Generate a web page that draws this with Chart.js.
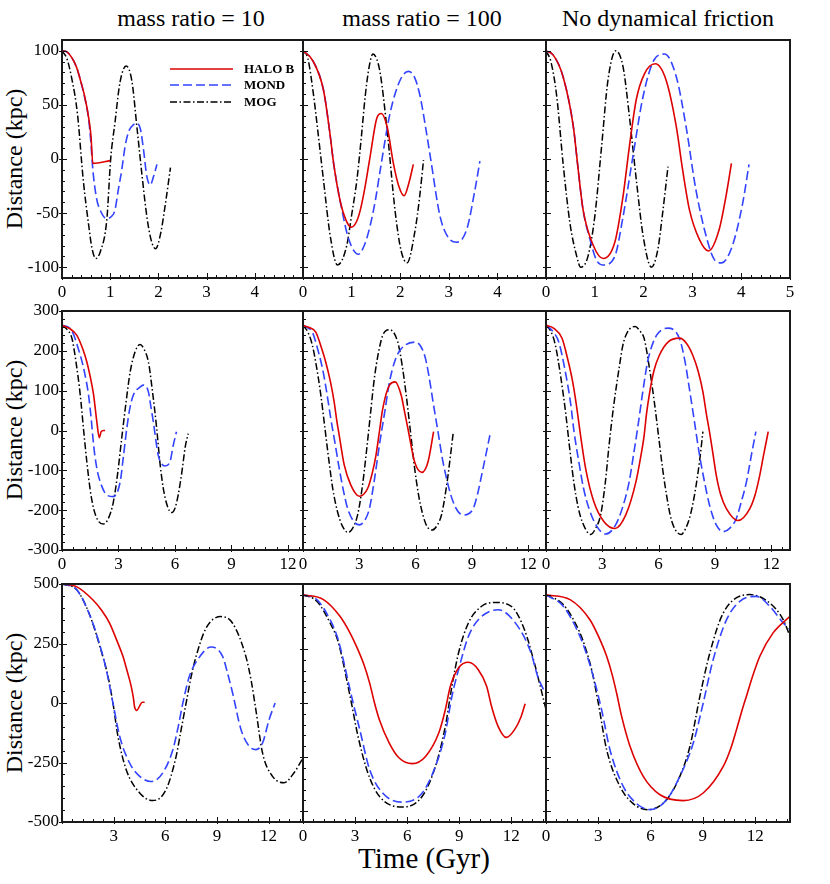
<!DOCTYPE html>
<html>
<head>
<meta charset="utf-8">
<script src="https://cdn.jsdelivr.net/npm/chart.js@4.4.1/dist/chart.umd.min.js"></script>
<style>
  html, body { margin:0; padding:0; background:#fff; }
  #wrap { position:relative; width:830px; height:884px; background:#fff; overflow:hidden; }
  #wrap canvas { position:absolute; }
  .txt { position:absolute; font-family:"Liberation Serif","Times New Roman",serif; color:#000; line-height:1; white-space:nowrap; }
</style>
</head>
<body>
<div id="wrap">
  <div class="txt" style="left:191px; top:6px; font-size:24px; transform:translateX(-50%);">mass ratio = 10</div>
  <div class="txt" style="left:422px; top:6px; font-size:24px; transform:translateX(-50%);">mass ratio = 100</div>
  <div class="txt" style="left:668px; top:6px; font-size:24px; transform:translateX(-50%);">No dynamical friction</div>
  <div class="txt" style="left:424px; top:844px; font-size:29px; transform:translateX(-50%);">Time (Gyr)</div>
  <div class="txt" style="left:14px; top:159px; font-size:24px; transform:translate(-50%,-50%) rotate(-90deg);">Distance (kpc)</div>
  <div class="txt" style="left:14px; top:430px; font-size:24px; transform:translate(-50%,-50%) rotate(-90deg);">Distance (kpc)</div>
  <div class="txt" style="left:14px; top:703px; font-size:24px; transform:translate(-50%,-50%) rotate(-90deg);">Distance (kpc)</div>
</div>
<script>
// ---------------- DATA: [time (Gyr), distance (kpc)] ----------------
// Row 1 : initial distance 100 kpc
const halo_100_mr10 = [[0,100],[0.1,99],[0.2,94],[0.3,85],[0.4,70],[0.47,58],[0.55,39],[0.6,22],[0.64,-4],[1.0,-1.5]];
const mond_100_mr10 = [[0,100],[0.1,99],[0.2,94],[0.3,85],[0.4,70],[0.47,57],[0.55,38],[0.6,15],[0.64,-10],[0.72,-37],[0.79,-47],[0.92,-55],[1.03,-53],[1.1,-47],[1.17,-28],[1.24,-10],[1.31,12],[1.38,25],[1.49,32],[1.56,33],[1.63,27],[1.69,9],[1.76,-16],[1.83,-24],[1.9,-16],[1.97,-5]];
const mog_100_mr10  = [[0,100],[0.1,93],[0.2,75],[0.32,42],[0.44,-19],[0.55,-60],[0.62,-82],[0.7,-92],[0.8,-85],[0.93,-56],[1.01,0],[1.1,34],[1.2,70],[1.33,86],[1.45,72],[1.56,27],[1.66,-15],[1.76,-53],[1.85,-75],[1.94,-83],[2.05,-68],[2.15,-40],[2.25,-8]];

const halo_100_mr100 = [[0,100],[0.2,91],[0.42,64],[0.55,25],[0.63,-4],[0.77,-40],[0.88,-56],[0.99,-63],[1.1,-58],[1.18,-47],[1.28,-25],[1.38,2],[1.52,38],[1.61,42],[1.73,30],[1.86,-4],[1.97,-25],[2.08,-34],[2.18,-22],[2.27,-5]];
const mond_100_mr100 = [[0,100],[0.2,91],[0.42,64],[0.55,25],[0.63,-4],[0.77,-40],[0.94,-74],[1.14,-88],[1.26,-80],[1.38,-62],[1.49,-38],[1.59,-10],[1.79,42],[2.0,73],[2.17,81],[2.3,75],[2.41,58],[2.52,30],[2.62,2],[2.82,-53],[2.98,-72],[3.16,-77],[3.37,-65],[3.54,-28],[3.64,-2]];
const mog_100_mr100  = [[0,100],[0.1,93],[0.22,58],[0.32,20],[0.42,-19],[0.56,-71],[0.71,-98],[0.9,-80],[1.0,-52],[1.11,-19],[1.2,20],[1.28,58],[1.36,85],[1.44,97],[1.52,92],[1.59,79],[1.73,27],[1.9,-50],[2.02,-85],[2.14,-96],[2.31,-65],[2.4,-35],[2.48,-1]];

const halo_100_nodf = [[0,100],[0.15,96],[0.35,76],[0.56,30],[0.66,-10],[0.76,-47],[0.97,-80],[1.17,-92],[1.41,-77],[1.58,-34],[1.71,12],[1.85,55],[2.02,79],[2.24,88],[2.46,73],[2.67,30],[2.8,-10],[2.94,-47],[3.14,-74],[3.33,-85],[3.55,-65],[3.69,-34],[3.8,-4]];
const mond_100_nodf = [[0,100],[0.15,96],[0.35,76],[0.56,30],[0.66,-10],[0.76,-47],[0.9,-74],[1.03,-93],[1.17,-98],[1.41,-90],[1.58,-53],[1.78,2],[1.99,58],[2.22,92],[2.43,97],[2.67,76],[2.87,30],[3.07,-28],[3.28,-71],[3.45,-93],[3.6,-96],[3.82,-80],[4.03,-41],[4.16,-5]];
const mog_100_nodf  = [[0,100],[0.1,90],[0.22,58],[0.35,-4],[0.49,-59],[0.63,-90],[0.71,-100],[0.86,-90],[1.0,-53],[1.14,12],[1.27,73],[1.43,100],[1.58,85],[1.71,39],[1.85,-19],[1.99,-71],[2.16,-100],[2.29,-84],[2.39,-50],[2.5,-7]];

// Row 2 : initial distance ~265 kpc
const halo_265_mr10 = [[0,264],[0.4,256],[0.79,239],[1.1,205],[1.32,172],[1.5,135],[1.68,89],[1.85,22],[1.98,-18],[2.08,-3],[2.2,0],[2.29,0]];
const mond_265_mr10 = [[0,264],[0.44,256],[0.97,189],[1.2,145],[1.41,89],[1.55,30],[1.68,-37],[1.85,-95],[2.03,-129],[2.38,-162],[2.73,-166],[3.09,-129],[3.25,-70],[3.44,5],[3.6,55],[3.79,89],[4.14,109],[4.32,114],[4.59,97],[4.72,60],[4.85,22],[5.11,-62],[5.3,-84],[5.47,-89],[5.73,-79],[5.91,-37],[6.08,-3]];
const mog_265_mr10  = [[0,264],[0.3,252],[0.53,231],[0.75,170],[0.97,89],[1.15,0],[1.32,-79],[1.5,-150],[1.68,-196],[1.9,-225],[2.2,-235],[2.45,-222],[2.73,-179],[2.95,-110],[3.17,-20],[3.4,70],[3.62,147],[3.9,200],[4.14,216],[4.35,205],[4.59,172],[4.8,100],[5.03,5],[5.2,-80],[5.38,-145],[5.6,-190],[5.82,-206],[6.0,-195],[6.17,-162],[6.35,-110],[6.55,-40],[6.7,-8]];

const halo_265_mr100 = [[0,264],[0.3,259],[0.68,247],[1.0,205],[1.21,172],[1.45,125],[1.66,72],[1.8,25],[1.93,-12],[2.2,-87],[2.55,-137],[3.0,-165],[3.45,-145],[3.7,-105],[3.89,-62],[4.08,0],[4.25,55],[4.61,114],[4.91,122],[5.23,89],[5.4,50],[5.59,5],[5.95,-79],[6.34,-105],[6.66,-79],[6.96,-3]];
const mond_265_mr100 = [[0,264],[0.25,258],[0.5,247],[0.75,210],[1.04,155],[1.25,100],[1.48,30],[1.7,-30],[1.93,-95],[2.15,-150],[2.38,-196],[2.7,-228],[3.0,-237],[3.3,-225],[3.54,-196],[3.8,-125],[4.07,-37],[4.35,45],[4.61,122],[4.9,175],[5.23,205],[6.0,222],[6.48,189],[6.7,140],[6.93,72],[7.2,-5],[7.46,-79],[8.0,-179],[8.54,-212],[9.07,-196],[9.3,-160],[9.52,-112],[9.75,-60],[9.96,-12]];
const mog_265_mr100  = [[0,264],[0.25,248],[0.5,214],[0.72,160],[0.95,89],[1.17,5],[1.39,-79],[1.6,-150],[1.84,-204],[2.1,-240],[2.41,-256],[2.65,-245],[2.91,-212],[3.15,-145],[3.36,-62],[3.58,35],[3.8,130],[4.02,195],[4.25,239],[4.61,253],[5.05,222],[5.28,165],[5.5,89],[5.72,0],[5.95,-95],[6.17,-165],[6.39,-212],[6.6,-240],[6.88,-250],[7.15,-238],[7.38,-212],[7.55,-170],[7.73,-112],[7.88,-55],[8.0,-8]];

const halo_265_nodf = [[0,264],[0.4,257],[0.86,231],[1.1,190],[1.39,130],[1.6,70],[1.84,-12],[2.11,-95],[2.55,-179],[3.09,-229],[3.68,-246],[4.25,-212],[4.79,-129],[5.05,-65],[5.23,-12],[5.35,40],[5.5,89],[5.75,150],[6.04,189],[6.5,222],[7.11,232],[7.5,218],[7.82,189],[8.1,150],[8.36,97],[8.55,40],[8.71,-3],[8.9,-60],[9.07,-112],[9.3,-160],[9.61,-196],[10.23,-226],[10.86,-196],[11.15,-160],[11.39,-112],[11.6,-60],[11.84,-3]];
const mond_265_nodf = [[0,264],[0.35,250],[0.68,222],[1.0,155],[1.3,72],[1.5,-5],[1.75,-79],[2.0,-145],[2.29,-196],[2.7,-240],[3.18,-260],[3.71,-237],[4.1,-190],[4.43,-129],[4.65,-65],[4.88,5],[5.15,95],[5.41,172],[5.7,220],[5.95,243],[6.48,257],[7.11,231],[7.4,175],[7.64,105],[7.9,25],[8.18,-62],[8.45,-130],[8.71,-187],[9.05,-235],[9.43,-254],[9.8,-245],[10.14,-221],[10.4,-180],[10.68,-129],[10.95,-60],[11.18,-3]];
const mog_265_nodf  = [[0,264],[0.25,250],[0.5,214],[0.8,130],[1.04,47],[1.25,-40],[1.48,-129],[1.7,-190],[1.93,-229],[2.38,-261],[2.65,-245],[2.91,-212],[3.15,-135],[3.36,-37],[3.6,60],[3.89,155],[4.1,215],[4.34,247],[4.75,261],[5.0,250],[5.23,231],[5.5,160],[5.77,72],[6.0,-15],[6.21,-95],[6.45,-170],[6.66,-221],[6.9,-250],[7.2,-261],[7.42,-248],[7.64,-221],[7.82,-185],[8.0,-137],[8.2,-70],[8.36,-3]];

// Row 3 : initial distance 500 kpc
const halo_500_mr10 = [[0,500],[0.84,489],[1.8,433],[2.3,390],[2.77,335],[3.2,260],[3.54,196],[3.8,130],[4.02,70],[4.15,20],[4.21,-14],[4.35,-31],[4.5,-14],[4.66,3],[4.8,3]];
const mond_500_mr10 = [[0,500],[0.84,477],[1.61,370],[2.19,245],[2.57,140],[2.96,0],[3.35,-140],[3.92,-251],[4.5,-307],[5.18,-330],[5.86,-293],[6.44,-196],[6.75,-100],[7.02,0],[7.4,112],[7.88,182],[8.66,235],[9.33,196],[9.6,130],[9.91,42],[10.4,-112],[10.88,-182],[11.26,-196],[11.65,-168],[12.03,-70],[12.38,0]];
const mog_500_mr10  = [[0,500],[0.84,477],[1.61,370],[2.19,240],[2.67,112],[2.96,0],[3.25,-140],[3.73,-280],[4.5,-377],[5.28,-410],[6.05,-363],[6.63,-224],[6.9,-120],[7.21,0],[7.5,110],[7.79,196],[8.37,315],[9.23,363],[9.91,335],[10.68,196],[11.0,90],[11.26,-28],[11.65,-210],[12.22,-307],[12.9,-335],[13.48,-293],[14,-231]];

const halo_500_mr100 = [[0,500],[1.18,478],[2.13,401],[2.6,340],[3.08,262],[3.5,180],[3.84,92],[4.12,0],[4.4,-77],[4.97,-185],[5.54,-254],[6.3,-280],[7.06,-247],[7.82,-139],[8.2,-31],[8.49,77],[8.96,162],[9.53,188],[10.1,154],[10.58,77],[10.86,-15],[11.24,-108],[11.71,-159],[12.19,-123],[12.57,-62],[12.8,-3]];
const mond_500_mr100 = [[0,500],[0.8,478],[1.56,385],[2.0,300],[2.32,200],[2.6,100],[2.89,0],[3.27,-123],[3.84,-308],[4.59,-416],[5.73,-458],[6.87,-416],[7.63,-293],[8.2,-139],[8.58,31],[8.96,154],[9.53,308],[10.1,385],[11.24,431],[12.38,354],[13.14,231],[13.52,123],[14,40]];
const mog_500_mr100  = [[0,500],[0.8,470],[1.56,370],[2.0,290],[2.32,185],[2.55,95],[2.79,0],[3.17,-154],[3.74,-324],[4.4,-431],[5.73,-481],[6.87,-431],[7.63,-293],[8.2,-108],[8.58,77],[8.96,231],[9.53,370],[10.29,447],[11.05,465],[12.0,447],[12.76,339],[13.33,185],[13.6,100],[14,-30]];

const halo_500_nodf = [[0,500],[1.38,478],[2.52,385],[3.0,310],[3.48,216],[3.8,130],[4.05,46],[4.34,-62],[4.82,-200],[5.58,-339],[6.54,-424],[7.87,-451],[9.02,-416],[10.17,-293],[10.6,-210],[10.93,-123],[11.3,-20],[11.5,31],[11.79,108],[12.27,216],[13.03,324],[14,401]];
const mond_500_nodf = [[0,500],[0.99,447],[1.95,308],[2.35,220],[2.71,123],[3.19,-31],[3.67,-216],[4.43,-385],[5.2,-465],[5.96,-493],[6.92,-447],[7.68,-339],[8.45,-185],[9.02,0],[9.59,200],[10.36,385],[11.12,470],[12.08,493],[12.84,447],[13.61,370],[14,340]];
const mog_500_nodf  = [[0,500],[0.99,455],[1.95,324],[2.3,245],[2.62,154],[3.0,0],[3.48,-216],[4.24,-385],[5.0,-465],[5.87,-493],[6.92,-447],[7.68,-339],[8.26,-200],[8.83,31],[9.4,231],[10.17,416],[11.7,501],[12.84,462],[13.61,385],[14,308]];

// ---------------- Tick labels ----------------
const xTicksRow1 = [0,1,2,3,4];
const xTicksRow1Last = [0,1,2,3,4,5];
const xTicksRow2 = [0,3,6,9,12];
const xTicksRow3First = [3,6,9,12];
const xTicksRow3 = [0,3,6,9,12];
const yTicksRow1 = [-100,-50,0,50,100];
const yTicksRow2 = [-300,-200,-100,0,100,200,300];
const yTicksRow3 = [-500,-250,0,250,500];

const seriesNames = ['HALO B','MOND','MOG'];
const colTitles = ['mass ratio = 10','mass ratio = 100','No dynamical friction'];

// ---------------- Layout & style ----------------
const colX = [[62,303],[303,546],[546,790]];
const rowY = [[40,278],[311,550],[584,822]];
const styles = [
  {color:'#dd0000', dash:[], width:1.6},
  {color:'#3344ff', dash:[9,4], width:1.6},
  {color:'#000000', dash:[7,2.5,1.5,2.5], width:1.5}
];
const FONT = '"Liberation Serif","Times New Roman",serif';
const PADTOP = 14;

const panels = [
  {r:0,c:0,s:[halo_100_mr10,mond_100_mr10,mog_100_mr10],   x:[0,5],  xt:xTicksRow1, xm:0.2, y:[-110,110], yt:yTicksRow1, ym:10, ylab:true, legend:true},
  {r:0,c:1,s:[halo_100_mr100,mond_100_mr100,mog_100_mr100],x:[0,5],  xt:xTicksRow1, xm:0.2, y:[-110,110], yt:yTicksRow1, ym:10},
  {r:0,c:2,s:[halo_100_nodf,mond_100_nodf,mog_100_nodf],   x:[0,5],  xt:xTicksRow1Last, xm:0.2, y:[-110,110], yt:yTicksRow1, ym:10},
  {r:1,c:0,s:[halo_265_mr10,mond_265_mr10,mog_265_mr10],   x:[0,12.8], xt:xTicksRow2, xm:0.6, y:[-300,300], yt:yTicksRow2, ym:20, ylab:true},
  {r:1,c:1,s:[halo_265_mr100,mond_265_mr100,mog_265_mr100],x:[0,12.95],xt:xTicksRow2, xm:0.6, y:[-300,300], yt:yTicksRow2, ym:20},
  {r:1,c:2,s:[halo_265_nodf,mond_265_nodf,mog_265_nodf],   x:[0,13], xt:xTicksRow2, xm:0.6, y:[-300,300], yt:yTicksRow2, ym:20},
  {r:2,c:0,s:[halo_500_mr10,mond_500_mr10,mog_500_mr10],   x:[0,14], xt:xTicksRow3First, xm:0.6, y:[-500,500], yt:yTicksRow3, ym:50, ylab:true},
  {r:2,c:1,s:[halo_500_mr100,mond_500_mr100,mog_500_mr100],x:[0,14], xt:xTicksRow3, xm:0.6, y:[-550,550], yt:yTicksRow3, ym:50},
  {r:2,c:2,s:[halo_500_nodf,mond_500_nodf,mog_500_nodf],   x:[0,14], xt:xTicksRow3, xm:0.6, y:[-550,550], yt:yTicksRow3, ym:50}
];

const framePlugin = {
  id: 'frame',
  afterDatasetsDraw(chart) {
    const p = chart.options.plugins.frame;
    if (!p) return;
    const ctx = chart.ctx, a = chart.chartArea, xs = chart.scales.x, ys = chart.scales.y;
    const ln = (x1,y1,x2,y2) => { ctx.beginPath(); ctx.moveTo(x1,y1); ctx.lineTo(x2,y2); ctx.stroke(); };
    ctx.save();
    ctx.strokeStyle = '#111'; ctx.lineWidth = 1;
    const nx = Math.floor((xs.max - xs.min) / p.xm + 1e-6);
    for (let i = 0; i <= nx; i++) {
      const px = Math.round(xs.getPixelForValue(xs.min + i * p.xm)) + 0.5;
      ln(px, a.bottom, px, a.bottom - 3);
    }
    for (let i = 0; i <= 10; i++) {
      const v = p.xMajorStep * i;
      if (v > xs.max + 1e-6) break;
      const px = Math.round(xs.getPixelForValue(v)) + 0.5;
      ln(px, a.bottom + 2, px, a.bottom - 5);
    }
    const y0 = Math.ceil(ys.min / p.ym - 1e-6);
    const y1 = Math.floor(ys.max / p.ym + 1e-6);
    for (let i = y0; i <= y1; i++) {
      const py = Math.round(ys.getPixelForValue(i * p.ym)) + 0.5;
      ln(a.left - 1, py, a.left + 3, py);
    }
    p.yt.forEach(v => {
      const py = Math.round(ys.getPixelForValue(v)) + 0.5;
      ln(a.left - 3, py, a.left + 5, py);
    });
    ctx.strokeStyle = '#1a1a1a'; ctx.lineWidth = 2;
    ctx.strokeRect(Math.round(a.left), Math.round(a.top), Math.round(a.right - a.left), Math.round(a.bottom - a.top));
    if (p.legend) {
      const ys2 = [29, 45, 62];
      chart.data.datasets.forEach((ds, i) => {
        ctx.strokeStyle = ds.borderColor; ctx.lineWidth = ds.borderWidth;
        ctx.setLineDash(ds.borderDash);
        ln(a.left + 108, a.top + ys2[i], a.left + 171, a.top + ys2[i]);
        ctx.setLineDash([]);
        ctx.fillStyle = '#000';
        ctx.font = 'bold 13px ' + FONT;
        ctx.textBaseline = 'middle';
        ctx.fillText(ds.label, a.left + 182, a.top + ys2[i] + 1);
      });
    }
    ctx.restore();
  }
};

const wrap = document.getElementById('wrap');
panels.forEach(p => {
  const L = colX[p.c][0], R = colX[p.c][1], T = rowY[p.r][0], B = rowY[p.r][1];
  const W = R - L + 75, H = B - T + 30 + PADTOP;
  const cv = document.createElement('canvas');
  cv.width = W; cv.height = H;
  cv.style.width = W + 'px'; cv.style.height = H + 'px';
  cv.style.left = (L - 60) + 'px'; cv.style.top = (T - PADTOP) + 'px';
  wrap.appendChild(cv);
  const xMajorStep = p.r === 0 ? 1 : 3;
  new Chart(cv.getContext('2d'), {
    type: 'line',
    data: {
      datasets: p.s.map((arr, i) => ({
        label: seriesNames[i],
        data: arr.map(([t, d]) => ({x: t, y: d})),
        borderColor: styles[i].color,
        borderWidth: styles[i].width,
        borderDash: styles[i].dash,
        fill: false,
        pointRadius: 0,
        cubicInterpolationMode: 'monotone'
      }))
    },
    options: {
      responsive: false, animation: false, devicePixelRatio: 1,
      layout: {padding: {left: 0, top: PADTOP, right: 15, bottom: 0}},
      plugins: {
        legend: {display: false}, tooltip: {enabled: false},
        frame: {xm: p.xm, xMajorStep, ym: p.ym, yt: p.yt, legend: !!p.legend}
      },
      scales: {
        x: {
          type: 'linear', min: p.x[0], max: p.x[1],
          grid: {display: false, drawTicks: false}, border: {display: false},
          afterBuildTicks: s => { s.ticks = p.xt.map(v => ({value: v})); },
          afterFit: s => { s.height = 30; },
          ticks: {color: '#000', font: {family: FONT, size: 17}, padding: 4, maxRotation: 0, autoSkip: false,
                  callback: v => String(v)}
        },
        y: {
          type: 'linear', min: p.y[0], max: p.y[1],
          grid: {display: false, drawTicks: false}, border: {display: false},
          afterBuildTicks: s => { s.ticks = p.yt.map(v => ({value: v})); },
          afterFit: s => { s.width = 60; },
          ticks: {display: !!p.ylab, color: '#000', font: {family: FONT, size: 17}, padding: 3, autoSkip: false,
                  callback: v => String(v)}
        }
      }
    },
    plugins: [framePlugin]
  });
});
</script>
</body>
</html>
